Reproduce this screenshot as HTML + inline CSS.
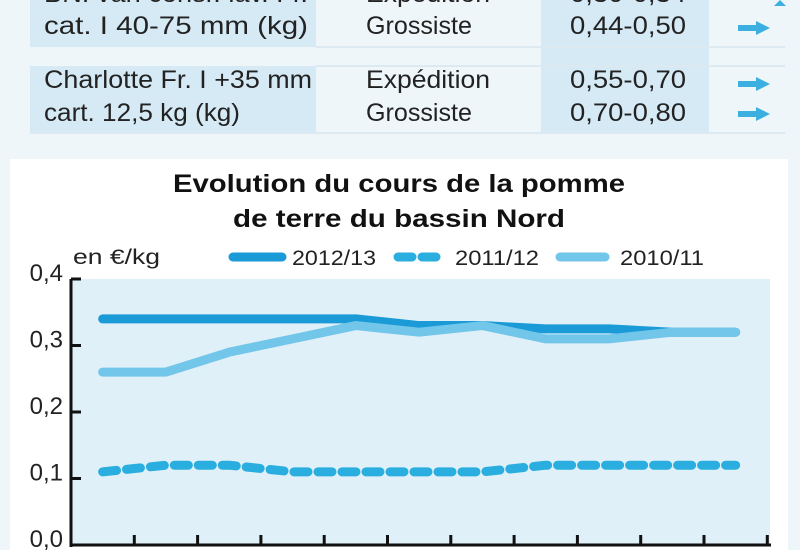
<!DOCTYPE html>
<html><head><meta charset="utf-8"><style>
html,body{margin:0;padding:0;background:#eef6fa;}
svg{display:block;font-family:"Liberation Sans",sans-serif;}
</style></head><body>
<svg width="800" height="550" viewBox="0 0 800 550">
<rect x="0" y="0" width="800" height="550" fill="#eef6fa"/>
<g>
<rect x="30" y="0" width="286" height="47" fill="#d6eaf5"/>
<rect x="30" y="66" width="286" height="67" fill="#d6eaf5"/>
<rect x="541" y="0" width="168" height="133" fill="#d6eaf5"/>
<line x1="316" y1="47" x2="785" y2="47" stroke="#dde9f0" stroke-width="2"/>
<line x1="316" y1="66" x2="785" y2="66" stroke="#dde9f0" stroke-width="2"/>
<line x1="30" y1="133" x2="785" y2="133" stroke="#dde9f0" stroke-width="2"/>
<g font-size="25" fill="#222">
<text x="44" y="2" textLength="264" lengthAdjust="spacingAndGlyphs">BN. van consr. lav. Fr.</text>
<text x="44" y="34" textLength="264" lengthAdjust="spacingAndGlyphs">cat. I 40-75 mm (kg)</text>
<text x="366" y="2" textLength="124" lengthAdjust="spacingAndGlyphs">Expédition</text>
<text x="366" y="34" textLength="106" lengthAdjust="spacingAndGlyphs">Grossiste</text>
<text x="570" y="2" textLength="116" lengthAdjust="spacingAndGlyphs">0,30-0,34</text>
<text x="570" y="34" textLength="116" lengthAdjust="spacingAndGlyphs">0,44-0,50</text>
<text x="44" y="88" textLength="268" lengthAdjust="spacingAndGlyphs">Charlotte Fr. I +35 mm</text>
<text x="44" y="121" textLength="196" lengthAdjust="spacingAndGlyphs">cart. 12,5 kg (kg)</text>
<text x="366" y="88" textLength="124" lengthAdjust="spacingAndGlyphs">Expédition</text>
<text x="366" y="121" textLength="106" lengthAdjust="spacingAndGlyphs">Grossiste</text>
<text x="570" y="88" textLength="116" lengthAdjust="spacingAndGlyphs">0,55-0,70</text>
<text x="570" y="121" textLength="116" lengthAdjust="spacingAndGlyphs">0,70-0,80</text>
</g>
<g fill="#3bb0e0">
<polygon points="738,25 756,25 756,21 770,28 756,35 756,31 738,31"/>
<polygon points="738,81 756,81 756,77 770,84 756,91 756,87 738,87"/>
<polygon points="738,111 756,111 756,107 770,114 756,121 756,117 738,117"/>
<polygon points="774,6 780,0 786,6"/>
</g>
</g>
<rect x="10" y="159" width="778" height="391" fill="#ffffff"/>
<text x="399" y="192" text-anchor="middle" font-size="25" font-weight="bold" fill="#111" textLength="452" lengthAdjust="spacingAndGlyphs">Evolution du cours de la pomme</text>
<text x="399" y="227" text-anchor="middle" font-size="25" font-weight="bold" fill="#111" textLength="332" lengthAdjust="spacingAndGlyphs">de terre du bassin Nord</text>
<text x="73" y="264" font-size="21" fill="#222" textLength="87" lengthAdjust="spacingAndGlyphs">en €/kg</text>
<g>
<line x1="233" y1="257" x2="282" y2="257" stroke="#1a9ad6" stroke-width="9" stroke-linecap="round"/>
<text x="292" y="265" font-size="21" fill="#222" textLength="84" lengthAdjust="spacingAndGlyphs">2012/13</text>
<line x1="398" y1="257" x2="440" y2="257" stroke="#2aaee0" stroke-width="9" stroke-linecap="round" stroke-dasharray="14 10"/>
<text x="455" y="265" font-size="21" fill="#222" textLength="84" lengthAdjust="spacingAndGlyphs">2011/12</text>
<line x1="560" y1="257" x2="605" y2="257" stroke="#72c6ea" stroke-width="9" stroke-linecap="round"/>
<text x="620" y="265" font-size="21" fill="#222" textLength="84" lengthAdjust="spacingAndGlyphs">2010/11</text>
</g>
<rect x="71" y="279" width="699" height="266" fill="#e0f0f8"/>
<g id="chart"></g>
</svg>
<script>
const yTicks = [0, 0.1, 0.2, 0.3, 0.4];
const yTickLabels = ["0,0", "0,1", "0,2", "0,3", "0,4"];
const s2012 = [0.34, 0.34, 0.34, 0.34, 0.34, 0.33, 0.33, 0.325, 0.325, 0.32, 0.32];
const s2011 = [0.11, 0.12, 0.12, 0.11, 0.11, 0.11, 0.11, 0.12, 0.12, 0.12, 0.12];
const s2010 = [0.26, 0.26, 0.29, 0.31, 0.33, 0.32, 0.33, 0.31, 0.31, 0.32, 0.32];
const NS = "http://www.w3.org/2000/svg";
const g = document.getElementById("chart");
const x0 = 71, step = 63.3;
function xPos(i){ return x0 + step * (i + 0.5); }
function yPos(v){ return 545 - v * 665; }
function mk(tag, attrs){ const e = document.createElementNS(NS, tag); for (const k in attrs) e.setAttribute(k, attrs[k]); g.appendChild(e); return e; }
yTicks.forEach((v, i) => {
  const t = mk("line", {x1: 71, x2: 81, y1: yPos(v), y2: yPos(v), stroke: "#111", "stroke-width": 3});
  
  
  const l = mk("text", {x: 63, y: yPos(v) + 2, "text-anchor": "end", "font-size": 24, fill: "#222"});
  l.textContent = yTickLabels[i];
  
  
});
for (let i = 1; i <= s2012.length; i++) {
  const t = mk("line", {x1: x0 + step * i, x2: x0 + step * i, y1: 535, y2: 545, stroke: "#111", "stroke-width": 3});
  
  
}
const ya = mk("line", {x1: 71, x2: 71, y1: 279, y2: 547, stroke: "#111", "stroke-width": 3});


const xa = mk("line", {x1: 70, x2: 771, y1: 545, y2: 545, stroke: "#111", "stroke-width": 3});


function series(vals, color, dash, name){
  const p = mk("polyline", {points: vals.map((v, i) => xPos(i) + "," + yPos(v)).join(" "), fill: "none", stroke: color, "stroke-width": 9, "stroke-linecap": "round", "stroke-linejoin": "round"});
  if (dash) p.setAttribute("stroke-dasharray", dash);
  
  
}
series(s2011, "#2aaee0", "14 10", "line-2011-12");
series(s2012, "#1a9ad6", null, "line-2012-13");
series(s2010, "#72c6ea", null, "line-2010-11");
</script>
</body></html>
